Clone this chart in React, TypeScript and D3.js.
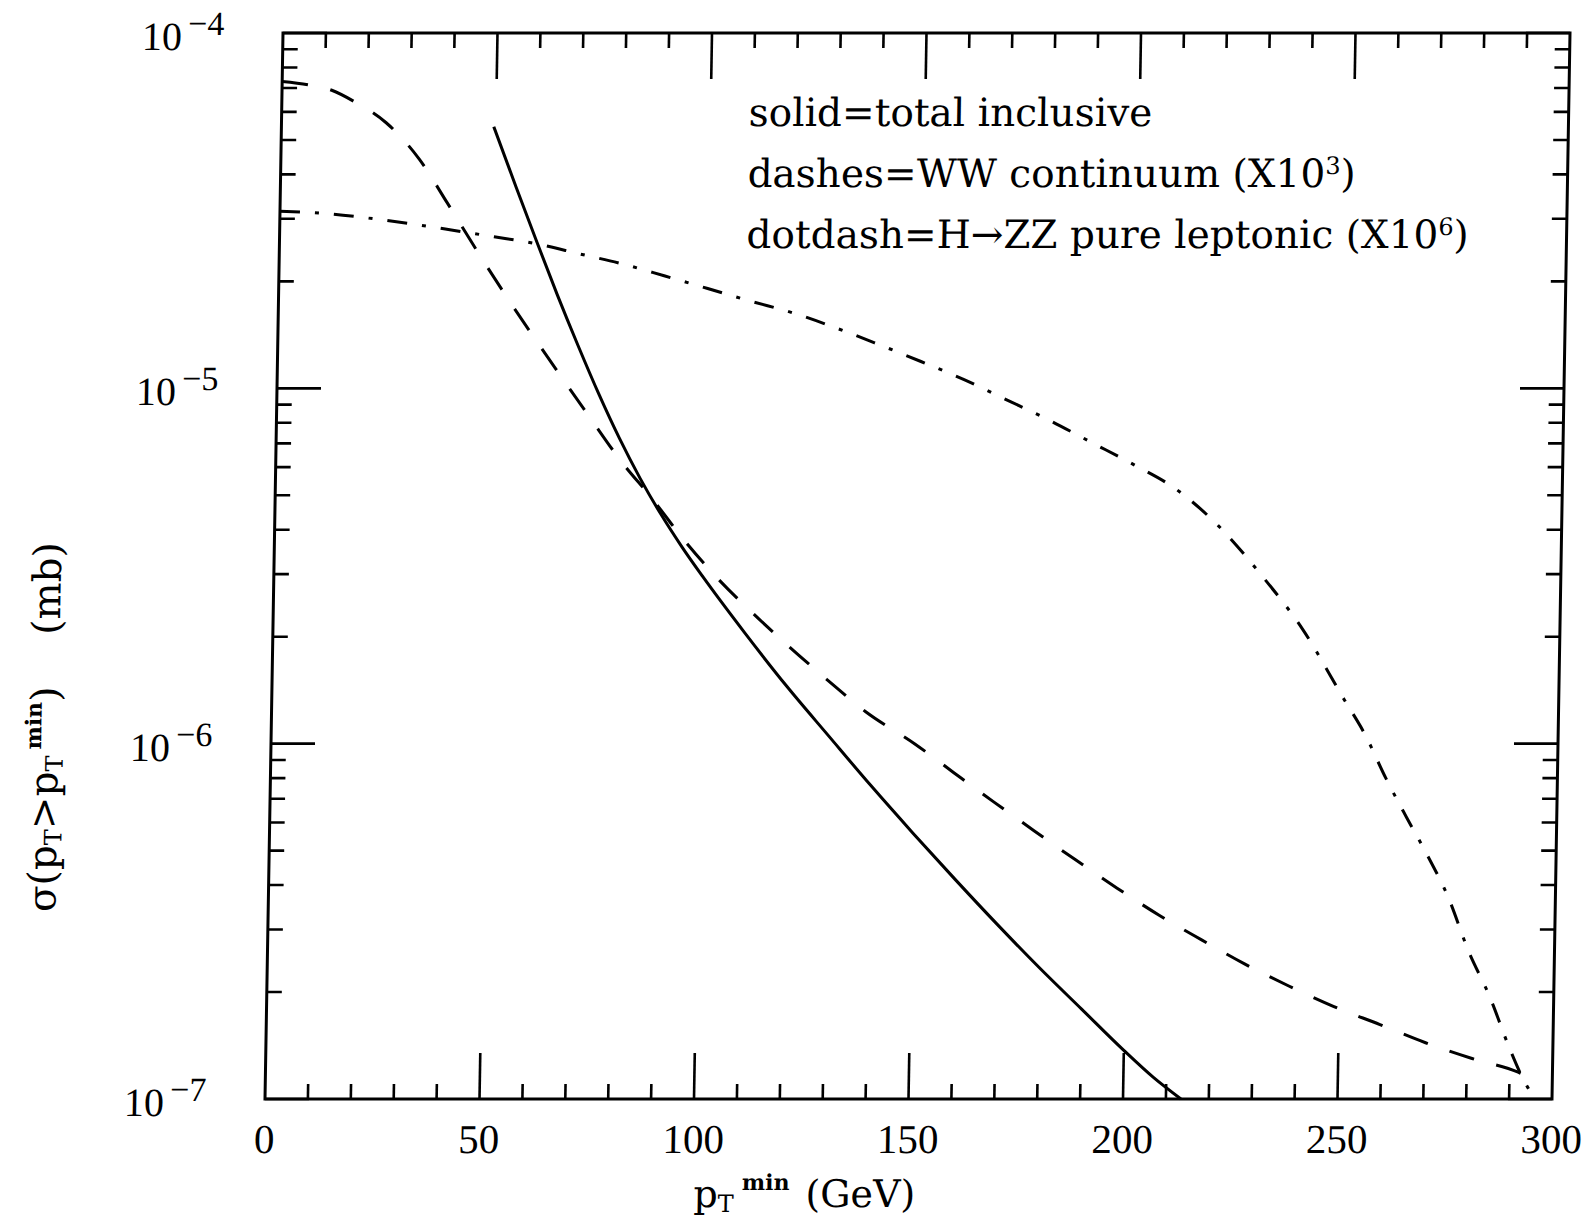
import React, { useEffect, useRef } from 'react';
import * as d3 from 'd3';

// solid = total inclusive  (pT_min in GeV, sigma in mb)
const solidPt = [49.5, 55, 60, 65, 70, 75, 80, 85, 90, 95, 100, 110, 120, 130, 140, 150, 160, 170, 180, 190, 200, 207, 213.5];
const solidSigma = [5.45e-5, 3.67e-5, 2.58e-5, 1.83e-5, 1.32e-5, 9.66e-6, 7.24e-6, 5.58e-6, 4.42e-6, 3.58e-6, 2.95e-6, 2.05e-6, 1.45e-6, 1.05e-6, 7.62e-7, 5.6e-7, 4.15e-7, 3.1e-7, 2.34e-7, 1.79e-7, 1.37e-7, 1.15e-7, 1.0e-7];

// dashes = WW continuum (X10^3)
const wwPt = [0, 6, 11.6, 17, 24.4, 32.3, 39, 45.4, 52.1, 59, 65.7, 72.8, 80.3, 87.9, 95.1, 103.2, 111.6, 120.3, 129.2, 138.5, 150, 159.2, 168.6, 178.2, 188, 197.8, 207.7, 217.8, 227.8, 238.2, 248.8, 259.6, 270.3, 281.2, 292, 294];
const wwSigma = [7.3e-5, 7.15e-5, 6.9e-5, 6.4e-5, 5.59e-5, 4.41e-5, 3.32e-5, 2.51e-5, 1.89e-5, 1.43e-5, 1.1e-5, 8.36e-6, 6.28e-6, 4.89e-6, 3.79e-6, 2.94e-6, 2.34e-6, 1.88e-6, 1.52e-6, 1.23e-6, 1.0e-6, 8.3e-7, 6.87e-7, 5.69e-7, 4.71e-7, 3.92e-7, 3.29e-7, 2.8e-7, 2.4e-7, 2.08e-7, 1.82e-7, 1.62e-7, 1.44e-7, 1.3e-7, 1.19e-7, 1.16e-7];

// dotdash = H->ZZ pure leptonic (X10^6)
const hzzPt = [0, 10, 20, 30, 40, 50, 60, 70, 80, 90, 100, 110, 120, 130, 140, 150, 160, 170, 180, 190, 200, 210, 220, 230, 240, 250, 255, 260, 265, 270, 275, 280, 285, 290, 293, 296];
const hzzSigma = [3.15e-5, 3.11e-5, 3.02e-5, 2.91e-5, 2.79e-5, 2.67e-5, 2.55e-5, 2.39e-5, 2.24e-5, 2.07e-5, 1.91e-5, 1.76e-5, 1.63e-5, 1.48e-5, 1.33e-5, 1.19e-5, 1.06e-5, 9.3e-6, 8.15e-6, 7.05e-6, 6.1e-6, 5.2e-6, 4.1e-6, 3.0e-6, 2.1e-6, 1.33e-6, 1.06e-6, 8.0e-7, 6.2e-7, 4.85e-7, 3.7e-7, 2.6e-7, 1.95e-7, 1.38e-7, 1.15e-7, 1.0e-7];

const xTickLabels = ['0', '50', '100', '150', '200', '250', '300'];
const yDecades = [-7, -6, -5, -4];

const legendLines = [
  { text: 'solid=total inclusive', sup: '', tail: '' },
  { text: 'dashes=WW continuum (X10', sup: '3', tail: ')' },
  { text: 'dotdash=H\u2192ZZ pure leptonic (X10', sup: '6', tail: ')' }
];

const W = 1593;
const H = 1224;
const plot = { left: 283, right: 1570, top: 33, bottom: 1099 };
// the scanned figure leans a little to the left (18px over the frame height)
const shearDeg = (Math.atan(-18 / 1066) * 180) / Math.PI;

const numFont = '"Liberation Serif", serif';
const txtFont = '"DejaVu Serif", serif';

function App() {
  const ref = useRef<SVGSVGElement>(null);

  useEffect(() => {
    const svg = d3.select(ref.current);
    svg.selectAll('*').remove();

    const g = svg
      .append('g')
      .attr('transform', `translate(0,${plot.top}) skewX(${shearDeg}) translate(0,${-plot.top})`);

    const x = d3.scaleLinear().domain([0, 300]).range([plot.left, plot.right]);
    const y = d3.scaleLog().domain([1e-7, 1e-4]).range([plot.bottom, plot.top]);

    // frame
    g.append('rect')
      .attr('x', plot.left)
      .attr('y', plot.top)
      .attr('width', plot.right - plot.left)
      .attr('height', plot.bottom - plot.top)
      .attr('fill', 'none')
      .attr('stroke', '#000')
      .attr('stroke-width', 3);

    const ticks = g.append('g').attr('stroke', '#000').attr('stroke-width', 2.6);

    // x ticks, bottom and top
    d3.range(10, 300, 10).forEach((v) => {
      const len = v % 50 === 0 ? 46 : 15;
      ticks.append('line').attr('x1', x(v)).attr('x2', x(v)).attr('y1', plot.bottom).attr('y2', plot.bottom - len);
      ticks.append('line').attr('x1', x(v)).attr('x2', x(v)).attr('y1', plot.top).attr('y2', plot.top + len);
    });

    // y ticks, left and right
    const yTicks: { v: number; major: boolean }[] = [];
    yDecades.forEach((d) => {
      yTicks.push({ v: Math.pow(10, d), major: true });
      if (d < -4) {
        for (let m = 2; m <= 9; m++) yTicks.push({ v: m * Math.pow(10, d), major: false });
      }
    });
    yTicks.forEach((t) => {
      const len = t.major ? 44 : 15;
      ticks.append('line').attr('x1', plot.left).attr('x2', plot.left + len).attr('y1', y(t.v)).attr('y2', y(t.v));
      ticks.append('line').attr('x1', plot.right).attr('x2', plot.right - len).attr('y1', y(t.v)).attr('y2', y(t.v));
    });

    // curves
    const line = d3
      .line<[number, number]>()
      .x((d) => x(d[0]))
      .y((d) => y(d[1]))
      .curve(d3.curveMonotoneX);

    const series = [
      { pt: solidPt, sigma: solidSigma, dash: null },
      { pt: wwPt, sigma: wwSigma, dash: '26,23' },
      { pt: hzzPt, sigma: hzzSigma, dash: '20,15,4,15' }
    ];
    series.forEach((s) => {
      const pts = s.pt.map((p, i) => [p, s.sigma[i]] as [number, number]);
      const path = g
        .append('path')
        .attr('d', line(pts))
        .attr('fill', 'none')
        .attr('stroke', '#000')
        .attr('stroke-width', 3);
      if (s.dash) path.attr('stroke-dasharray', s.dash);
    });

    // x tick labels
    xTickLabels.forEach((lab) => {
      g.append('text')
        .attr('x', x(+lab))
        .attr('y', 1153)
        .attr('text-anchor', 'middle')
        .attr('font-family', numFont)
        .attr('font-size', 41)
        .text(lab);
    });

    // y tick labels 10^-n
    yDecades.forEach((d) => {
      const t = g
        .append('text')
        .attr('x', 142)
        .attr('y', y(Math.pow(10, d)) + 17)
        .attr('font-family', numFont)
        .attr('font-size', 40);
      t.append('tspan').text('10');
      t.append('tspan').attr('font-size', 34).attr('dx', 6).attr('dy', -15).text(`\u2212${-d}`);
    });

    // legend
    legendLines.forEach((l, i) => {
      const t = g
        .append('text')
        .attr('x', 750)
        .attr('y', 126 + i * 61)
        .attr('font-family', txtFont)
        .attr('font-size', 39);
      t.append('tspan').text(l.text);
      if (l.sup) {
        t.append('tspan').attr('font-size', 24).attr('dy', -13).text(l.sup);
        t.append('tspan').attr('dy', 13).text(l.tail);
      }
    });

    // x axis title
    const xt = g
      .append('text')
      .attr('x', 713)
      .attr('y', 1207)
      .attr('font-family', txtFont)
      .attr('font-size', 38);
    xt.append('tspan').text('p');
    xt.append('tspan').attr('font-size', 24).attr('dy', 5).text('T');
    xt.append('tspan').attr('font-size', 22).attr('font-weight', 'bold').attr('dx', 8).attr('dy', -22).text('min');
    xt.append('tspan').attr('dx', 16).attr('dy', 17).text('(GeV)');

    // y axis title
    const yt = g
      .append('text')
      .attr('transform', 'translate(70,912) rotate(-90)')
      .attr('font-family', txtFont)
      .attr('font-size', 39);
    yt.append('tspan').text('\u03c3(p');
    yt.append('tspan').attr('font-size', 24).attr('dy', 5).text('T');
    yt.append('tspan').attr('dy', -5).text('>p');
    yt.append('tspan').attr('font-size', 24).attr('dy', 5).text('T');
    yt.append('tspan').attr('font-size', 22).attr('font-weight', 'bold').attr('dx', 6).attr('dy', -22).text('min');
    yt.append('tspan').attr('dy', 17).text(')');
    yt.append('tspan').attr('dx', 52).text('(mb)');
  }, []);

  return (
    <svg
      ref={ref}
      width={W}
      height={H}
      style={{ position: 'absolute', left: 0, top: 0, background: '#fff' }}
    />
  );
}

export default App;
